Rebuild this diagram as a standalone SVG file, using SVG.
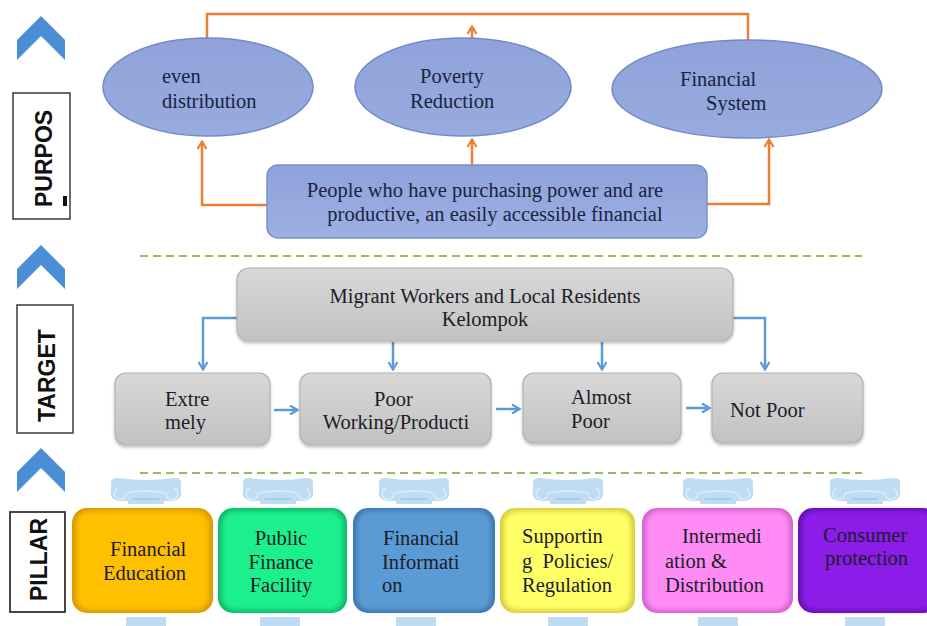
<svg xmlns="http://www.w3.org/2000/svg" width="927" height="626" viewBox="0 0 927 626">
  <style>
    .serif { font-family: "Liberation Serif", "DejaVu Serif", serif; font-size: 20.5px; fill: #1c1c2a; }
    .navy { fill: #1a2340; }
    .side { font-family: "Liberation Sans", Arial, sans-serif; font-weight: bold; font-size: 23px; fill: #111; }
    .sidebox { fill: #fff; stroke: #3a3a3a; stroke-width: 1.5; }
    .chev { fill: #4a8fd6; }
    .ell { fill: url(#gEll); stroke: #7389c8; stroke-width: 1.5; }
    .gray { fill: url(#gGray); stroke: #b2b2b2; stroke-width: 1.2; filter: url(#shadow); }
    .orange { fill: none; stroke: #ed7d31; stroke-width: 2.5; }
    .blue { fill: none; stroke: #5b9bd5; stroke-width: 2.5; }
    .dash { stroke: #9bbb59; stroke-width: 2; stroke-dasharray: 8 5; }
    .cap { fill: #bfdcf2; }
    .capline { fill: none; stroke: #d9ecfa; stroke-width: 1.5; }
    .capband { fill: none; stroke: #9fc9ea; stroke-width: 1.5; }
  </style>
  <defs>
    <linearGradient id="gEll" x1="0" y1="0" x2="0" y2="1">
      <stop offset="0" stop-color="#8fa3da"/>
      <stop offset="1" stop-color="#97abe0"/>
    </linearGradient>
    <linearGradient id="gPurp" x1="0" y1="0" x2="0" y2="1">
      <stop offset="0" stop-color="#8ea2da"/>
      <stop offset="1" stop-color="#9db0e4"/>
    </linearGradient>
    <linearGradient id="gGray" x1="0" y1="0" x2="0" y2="1">
      <stop offset="0" stop-color="#d8d8d8"/>
      <stop offset="1" stop-color="#c2c2c2"/>
    </linearGradient>
    <filter id="shadow" x="-10%" y="-10%" width="120%" height="130%">
      <feDropShadow dx="0" dy="2" stdDeviation="1.5" flood-color="#000" flood-opacity="0.25"/>
    </filter>
    <filter id="soft" x="-10%" y="-10%" width="120%" height="120%">
      <feGaussianBlur stdDeviation="2.5"/>
    </filter>
    <clipPath id="clipPillar"><rect x="10" y="512" width="55" height="100"/></clipPath>
    <marker id="arrO" viewBox="0 0 10 10" refX="8" refY="5" markerWidth="10" markerHeight="10" markerUnits="userSpaceOnUse" orient="auto">
      <path d="M1,0.5 L8.5,5 L1,9.5" fill="none" stroke="#ed7d31" stroke-width="2.2"/>
    </marker>
    <marker id="arrB" viewBox="0 0 10 10" refX="8" refY="5" markerWidth="10" markerHeight="10" markerUnits="userSpaceOnUse" orient="auto">
      <path d="M1,0.5 L8.5,5 L1,9.5" fill="none" stroke="#5b9bd5" stroke-width="2.2"/>
    </marker>
    <polygon id="chevron" points="17,40 41,16 65,40 65,60 41,36 17,60"/>
    <!-- ionic capital, centred on x=0, top at y=0 -->
    <g id="capital">
      <path class="cap" d="M-35,4 Q-35,0 -28,0 Q0,4 28,0 Q35,0 35,4 L35,12 Q37,22 26,23 L18,23 L18,26 L-18,26 L-18,23 L-26,23 Q-37,22 -35,12 Z"/>
      <path class="capline" d="M-20,15 A6,6 0 1 1 -28,10 M20,15 A6,6 0 1 0 28,10 M-20,15 Q0,11 20,15"/>
      <line class="capband" x1="-13" y1="21" x2="13" y2="21"/>
    </g>
  </defs>

  <rect width="927" height="626" fill="#ffffff"/>

  <!-- side labels -->
  <g id="side-labels">
    <use href="#chevron" class="chev"/>
    <use href="#chevron" class="chev" transform="translate(0,229)"/>
    <use href="#chevron" class="chev" transform="translate(0,432)"/>
    <g id="label-purpose">
      <rect class="sidebox" x="13" y="93" width="57" height="126"/>
      <text class="side" transform="translate(52,207) rotate(-90)">PURPOS</text>
      <rect x="63" y="196" width="4" height="10" fill="#111"/>
    </g>
    <g id="label-target">
      <rect class="sidebox" x="17" y="305" width="56" height="128"/>
      <text class="side" transform="translate(55,422) rotate(-90)">TARGET</text>
    </g>
    <g id="label-pillar">
      <rect class="sidebox" x="10" y="512" width="55" height="100"/>
      <g clip-path="url(#clipPillar)">
        <text class="side" transform="translate(47,601) rotate(-90)">PILLAR</text>
      </g>
      <rect x="10" y="512" width="55" height="100" fill="none" stroke="#3a3a3a" stroke-width="1.5"/>
    </g>
  </g>

  <!-- section separators -->
  <line class="dash" x1="140" y1="256" x2="862" y2="256"/>
  <line class="dash" x1="140" y1="473" x2="862" y2="473"/>

  <!-- connectors -->
  <g id="connectors">
    <path class="orange" d="M207,38 V14 H748 V40"/>
    <path class="orange" d="M472,38 V27" marker-end="url(#arrO)"/>
    <path class="orange" d="M267,205 H202 V142" marker-end="url(#arrO)"/>
    <path class="orange" d="M472,165 V140" marker-end="url(#arrO)"/>
    <path class="orange" d="M707,204 H769 V140" marker-end="url(#arrO)"/>

    <path class="blue" d="M237,318 H203 V369" marker-end="url(#arrB)"/>
    <path class="blue" d="M393,342 V369" marker-end="url(#arrB)"/>
    <path class="blue" d="M602,342 V369" marker-end="url(#arrB)"/>
    <path class="blue" d="M733,318 H765 V369" marker-end="url(#arrB)"/>
    <path class="blue" d="M274,410 H297" marker-end="url(#arrB)"/>
    <path class="blue" d="M496,409 H519" marker-end="url(#arrB)"/>
    <path class="blue" d="M686,408 H709" marker-end="url(#arrB)"/>
  </g>

  <!-- purpose -->
  <g id="goal-distribution">
    <ellipse class="ell" cx="208" cy="87" rx="105" ry="49"/>
    <text class="serif navy" x="162" y="83">even</text>
    <text class="serif navy" x="162" y="108">distribution</text>
  </g>
  <g id="goal-poverty">
    <ellipse class="ell" cx="463" cy="87" rx="108" ry="49"/>
    <text class="serif navy" x="420" y="83">Poverty</text>
    <text class="serif navy" x="410" y="108">Reduction</text>
  </g>
  <g id="goal-system">
    <ellipse class="ell" cx="747" cy="89" rx="135" ry="49"/>
    <text class="serif navy" x="680" y="86">Financial</text>
    <text class="serif navy" x="706" y="110">System</text>
  </g>
  <g id="purpose-box">
    <rect x="267" y="165" width="440" height="73" rx="11" fill="url(#gPurp)" stroke="#7a90cc" stroke-width="1.5"/>
    <text class="serif navy" x="485" y="197" text-anchor="middle">People who have purchasing power and are</text>
    <text class="serif navy" x="495" y="221" text-anchor="middle">productive, an easily accessible financial</text>
  </g>

  <!-- target -->
  <g id="target-group">
    <rect class="gray" x="237" y="268" width="496" height="73" rx="12"/>
    <text class="serif" x="485" y="303" text-anchor="middle">Migrant Workers and Local Residents</text>
    <text class="serif" x="485" y="326" text-anchor="middle">Kelompok</text>
  </g>
  <g id="target-extremely">
    <rect class="gray" x="115" y="373" width="155" height="72" rx="11"/>
    <text class="serif" x="165" y="406">Extre</text>
    <text class="serif" x="165" y="429">mely</text>
  </g>
  <g id="target-poor">
    <rect class="gray" x="300" y="373" width="191" height="72" rx="11"/>
    <text class="serif" x="374" y="406">Poor</text>
    <text class="serif" x="396" y="429" text-anchor="middle">Working/Producti</text>
  </g>
  <g id="target-almost">
    <rect class="gray" x="523" y="373" width="158" height="70" rx="11"/>
    <text class="serif" x="571" y="404">Almost</text>
    <text class="serif" x="571" y="428">Poor</text>
  </g>
  <g id="target-notpoor">
    <rect class="gray" x="712" y="373" width="151" height="70" rx="11"/>
    <text class="serif" x="730" y="417">Not Poor</text>
  </g>

  <!-- pillars: capital, shaft and base -->
  <g id="pillar-education">
    <use href="#capital" x="146" y="478"/>
    <rect x="126" y="617" width="40" height="9" fill="#bfdcf2"/>
    <rect x="72" y="508" width="141" height="105" rx="15" fill="#d69a00"/>
    <rect x="76" y="511" width="133" height="99" rx="13" fill="#ffc000" filter="url(#soft)"/>
    <text class="serif" x="110" y="556">Financial</text>
    <text class="serif" x="103" y="580">Education</text>
  </g>
  <g id="pillar-facility">
    <use href="#capital" x="278" y="478"/>
    <rect x="260" y="617" width="40" height="9" fill="#bfdcf2"/>
    <rect x="218" y="508" width="129" height="105" rx="15" fill="#0fb86a"/>
    <rect x="222" y="511" width="121" height="99" rx="13" fill="#1ef08c" filter="url(#soft)"/>
    <text class="serif" x="281" y="545" text-anchor="middle">Public</text>
    <text class="serif" x="281" y="569" text-anchor="middle">Finance</text>
    <text class="serif" x="281" y="592" text-anchor="middle">Facility</text>
  </g>
  <g id="pillar-information">
    <use href="#capital" x="414" y="478"/>
    <rect x="396" y="617" width="40" height="9" fill="#bfdcf2"/>
    <rect x="353" y="508" width="142" height="105" rx="15" fill="#3d78b2"/>
    <rect x="357" y="511" width="134" height="99" rx="13" fill="#5a9bd5" filter="url(#soft)"/>
    <text class="serif" x="383" y="545">Financial</text>
    <text class="serif" x="382" y="569">Informati</text>
    <text class="serif" x="382" y="592">on</text>
  </g>
  <g id="pillar-regulation">
    <use href="#capital" x="568" y="478"/>
    <rect x="548" y="617" width="40" height="9" fill="#bfdcf2"/>
    <rect x="500" y="508" width="135" height="105" rx="15" fill="#d6cc3e"/>
    <rect x="504" y="511" width="127" height="99" rx="13" fill="#ffff66" filter="url(#soft)"/>
    <text class="serif" x="522" y="543">Supportin</text>
    <text class="serif" x="522" y="568" xml:space="preserve">g  Policies/</text>
    <text class="serif" x="522" y="592">Regulation</text>
  </g>
  <g id="pillar-distribution">
    <use href="#capital" x="718" y="478"/>
    <rect x="698" y="617" width="40" height="9" fill="#bfdcf2"/>
    <rect x="642" y="508" width="151" height="105" rx="15" fill="#d462cc"/>
    <rect x="646" y="511" width="143" height="99" rx="13" fill="#ff8cf5" filter="url(#soft)"/>
    <text class="serif" x="682" y="543">Intermedi</text>
    <text class="serif" x="665" y="568">ation &amp;</text>
    <text class="serif" x="665" y="592">Distribution</text>
  </g>
  <g id="pillar-protection">
    <use href="#capital" x="865" y="478"/>
    <rect x="845" y="617" width="40" height="9" fill="#bfdcf2"/>
    <rect x="798" y="508" width="140" height="105" rx="15" fill="#6610b4"/>
    <rect x="802" y="511" width="132" height="99" rx="13" fill="#8c1ae8" filter="url(#soft)"/>
    <text class="serif" x="823" y="542" fill="#1e0836">Consumer</text>
    <text class="serif" x="825" y="565" fill="#1e0836">protection</text>
  </g>
</svg>
